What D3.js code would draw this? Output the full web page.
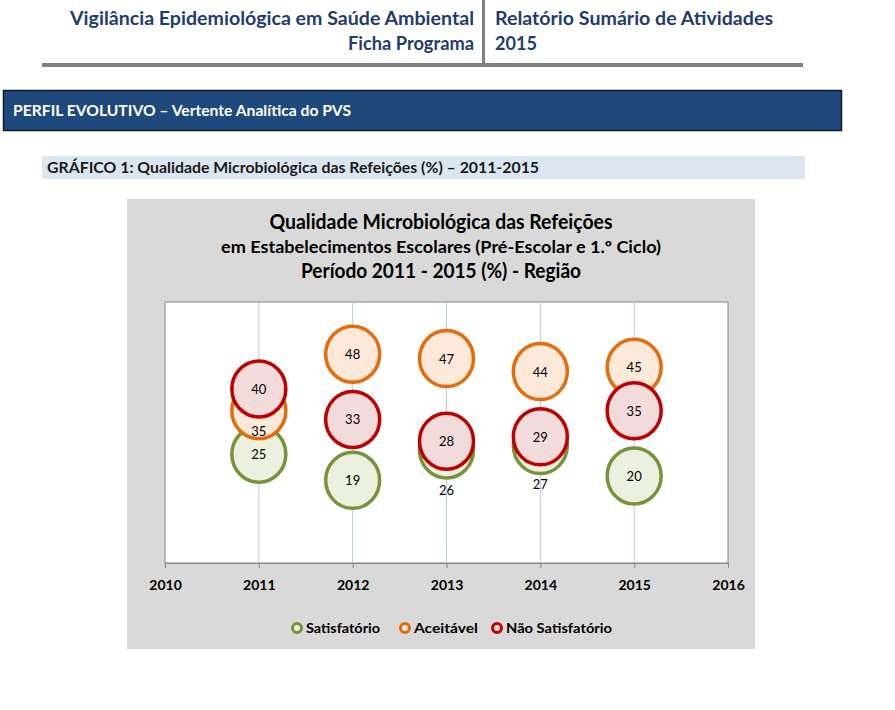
<!DOCTYPE html>
<html><head><meta charset="utf-8">
<script src="https://cdn.jsdelivr.net/npm/d3@7"></script>
<style>body{margin:0;background:#fff}svg{display:block}</style>
</head><body>
<script>
// ---- data ----
const years = [2011, 2012, 2013, 2014, 2015];
const satisfatorio = [25, 19, 26, 27, 20];
const aceitavel = [35, 48, 47, 44, 45];
const naoSatisfatorio = [40, 33, 28, 29, 35];
const xTicks = [2010, 2011, 2012, 2013, 2014, 2015, 2016];
const seriesNames = ["Satisfatório", "Aceitável", "Não Satisfatório"];
// label nudges (layout only), px below the bubble centre
const labelNudge = {"Satisfatório": [0, 0, 40, 38, 0], "Aceitável": [20, 0, 0, 0, 0], "Não Satisfatório": [0, 0, 0, 0, 0]};
const styles = {
  "Satisfatório": {stroke: "#77933c", fill: "#ebf1de"},
  "Aceitável": {stroke: "#e46c0a", fill: "#fde9d9"},
  "Não Satisfatório": {stroke: "#c00000", fill: "#f2dcdb"}
};
const seriesValues = [satisfatorio, aceitavel, naoSatisfatorio];

const W = 895, H = 710;
const svg = d3.select("body").append("svg").attr("width", W).attr("height", H);
const F = "Lato, 'Open Sans', sans-serif";
const navy = "#1f3d6e";

function fitText(sel, len) { sel.attr("textLength", len).attr("lengthAdjust", "spacingAndGlyphs"); }
// ---- page header ----
const hdr = svg.append("g").attr("font-family", F).attr("font-weight", 700).attr("fill", navy).attr("font-size", 19);
fitText(hdr.append("text").attr("x", 474).attr("y", 25).attr("text-anchor", "end").text("Vigilância Epidemiológica em Saúde Ambiental"), 404);
fitText(hdr.append("text").attr("x", 474).attr("y", 50).attr("text-anchor", "end").text("Ficha Programa"), 126);
fitText(hdr.append("text").attr("x", 495).attr("y", 25).text("Relatório Sumário de Atividades"), 278);
fitText(hdr.append("text").attr("x", 495).attr("y", 50).text("2015"), 42);
svg.append("rect").attr("x", 482).attr("y", 0).attr("width", 3).attr("height", 64).attr("fill", "#7f7f7f");
svg.append("rect").attr("x", 42).attr("y", 63).attr("width", 761).attr("height", 4).attr("fill", "#7f7f7f");

// banner
svg.append("rect").attr("x", 3.5).attr("y", 90.5).attr("width", 838).attr("height", 40).attr("fill", "#1f497d").attr("stroke", "#0d1a2e").attr("stroke-width", 1.5);
fitText(svg.append("text").attr("x", 13).attr("y", 116).attr("fill", "#fff").attr("font-family", F).attr("font-weight", 700).attr("font-size", 15).text("PERFIL EVOLUTIVO – Vertente Analítica do PVS"), 338);

// section bar
svg.append("rect").attr("x", 42).attr("y", 156).attr("width", 763).attr("height", 23).attr("fill", "#dce6f1");
fitText(svg.append("text").attr("x", 47).attr("y", 173).attr("fill", "#1a1a1a").attr("font-family", F).attr("font-weight", 700).attr("font-size", 15).text("GRÁFICO 1: Qualidade Microbiológica das Refeições (%) – 2011-2015"), 492);

// ---- chart ----
svg.append("rect").attr("x", 127).attr("y", 199).attr("width", 628).attr("height", 450).attr("fill", "#d9d9d9");
const t = svg.append("g").attr("font-family", F).attr("fill", "#000").attr("text-anchor", "middle").style("white-space", "pre");
fitText(t.append("text").attr("x", 441).attr("y", 229).attr("font-size", 20).attr("font-weight", 700).text("Qualidade Microbiológica das Refeições"), 343);
fitText(t.append("text").attr("x", 441).attr("y", 253).attr("font-size", 17).attr("font-weight", 700).text("em Estabelecimentos Escolares  (Pré-Escolar e 1.º Ciclo)"), 440);
fitText(t.append("text").attr("x", 441).attr("y", 278).attr("font-size", 20).attr("font-weight", 700).text("Período 2011 - 2015 (%) - Região"), 280);

const pl = 165, pr = 728, pt = 302, pb = 563;
const x = d3.scaleLinear().domain([2010, 2016]).range([pl, pr]);
const y = d3.scaleLinear().domain([0, 60]).range([pb, pt]);

svg.append("rect").attr("x", pl).attr("y", pt).attr("width", pr - pl).attr("height", pb - pt).attr("fill", "#fff").attr("stroke", "#868686").attr("stroke-width", 1);

// vertical gridlines
svg.append("g").selectAll("line").data(years).join("line")
  .attr("x1", d => x(d)).attr("x2", d => x(d)).attr("y1", pt).attr("y2", pb)
  .attr("stroke", "#b9cde5").attr("stroke-width", 1);

// x axis
const xAxis = svg.append("g").attr("transform", `translate(0,${pb})`)
  .call(d3.axisBottom(x).tickValues(xTicks).tickFormat(d3.format("d")).tickSize(5).tickPadding(12));
xAxis.select(".domain").attr("stroke", "#868686");
xAxis.selectAll(".tick line").attr("stroke", "#868686");
xAxis.selectAll("text").attr("font-family", F).attr("font-weight", 700).attr("font-size", 14).attr("fill", "#000");

// bubbles
const rx = 27, ry = 28;
seriesNames.forEach((name, si) => {
  const data = years.map((yr, i) => ({yr, v: seriesValues[si][i], i}));
  svg.append("g").selectAll("ellipse").data(data).join("ellipse")
    .attr("cx", d => x(d.yr)).attr("cy", d => y(d.v)).attr("rx", rx).attr("ry", ry)
    .attr("fill", styles[name].fill).attr("stroke", styles[name].stroke).attr("stroke-width", 3.5);
});
seriesNames.forEach((name, si) => {
  const data = years.map((yr, i) => ({yr, v: seriesValues[si][i], i}));
  svg.append("g").selectAll("text").data(data).join("text")
    .attr("x", d => x(d.yr)).attr("y", d => y(d.v) + labelNudge[name][d.i] + 5)
    .attr("text-anchor", "middle").attr("font-family", F).attr("font-size", 13).attr("fill", "#000")
    .text(d => d.v);
});

// legend
const legX = [297, 405, 497];
const lg = svg.append("g").attr("font-family", F).attr("font-weight", 700).attr("font-size", 14);
seriesNames.forEach((name, i) => {
  lg.append("circle").attr("cx", legX[i]).attr("cy", 628).attr("r", 4.5)
    .attr("fill", styles[name].fill).attr("stroke", styles[name].stroke).attr("stroke-width", 3);
  const tx = lg.append("text").attr("x", legX[i] + 9).attr("y", 633).attr("fill", "#000").text(name);
  fitText(tx, [74, 64, 106][i]);
});
</script>
</body></html>
